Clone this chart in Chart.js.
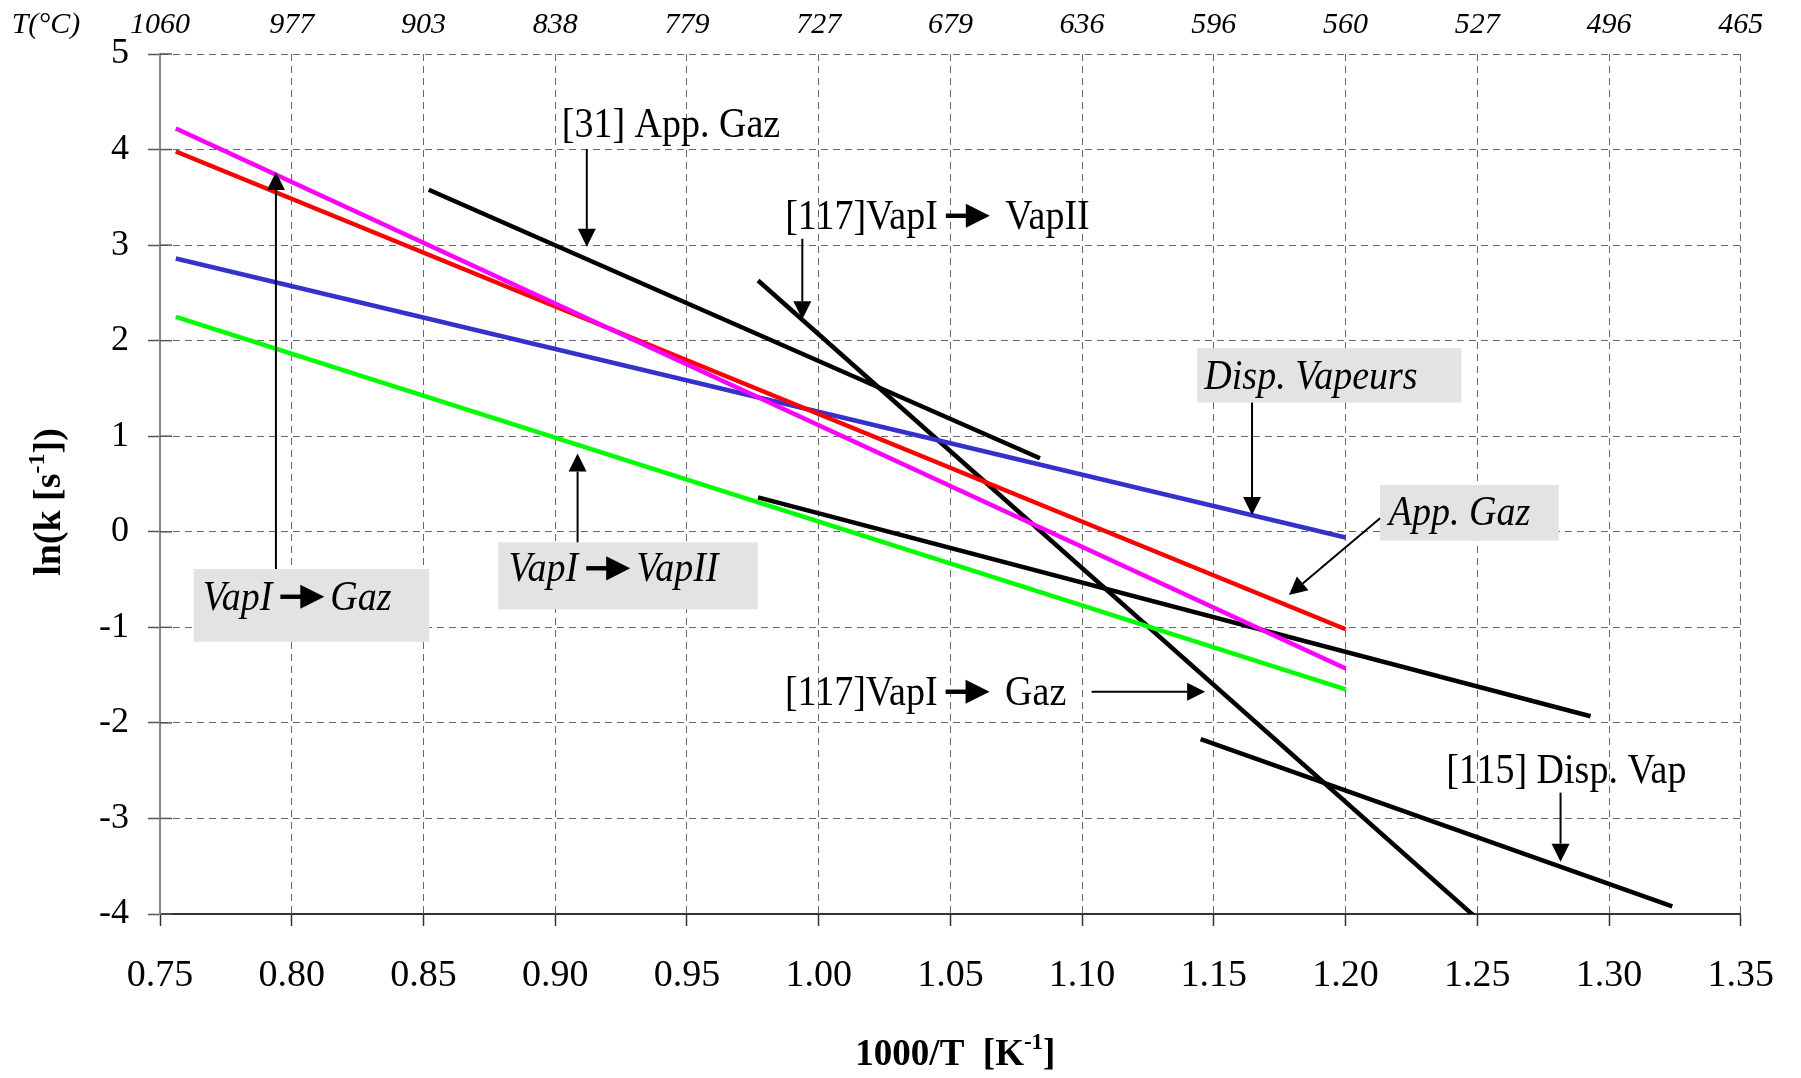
<!DOCTYPE html>
<html>
<head>
<meta charset="utf-8">
<title>ln(k) en fonction de 1000/T</title>
<script src="https://cdn.jsdelivr.net/npm/chart.js@4.4.1/dist/chart.umd.min.js"></script>
<style>
  html, body { margin: 0; padding: 0; background: #fff; }
  #chart { display: block; }
</style>
</head>
<body>
<canvas id="chart" width="1801" height="1078"></canvas>
<script>
// ticks
const xTicks = [0.75, 0.80, 0.85, 0.90, 0.95, 1.00, 1.05, 1.10, 1.15, 1.20, 1.25, 1.30, 1.35];
const topLabels = ['1060', '977', '903', '838', '779', '727', '679', '636', '596', '560', '527', '496', '465'];

// straight lines, end points (1000/T, ln k)
const vapGazX = [0.756, 1.200];          // VapI -> Gaz (magenta)
const vapGazY = [4.22, -1.43];
const appGazX = [0.756, 1.200];          // App. Gaz (red)
const appGazY = [3.98, -1.02];
const dispVapX = [0.756, 1.200];         // Disp. Vapeurs (blue)
const dispVapY = [2.86, -0.06];
const vapVapX = [0.756, 1.200];          // VapI -> VapII (green)
const vapVapY = [2.25, -1.65];
const ref31X = [0.852, 1.084];           // [31] App. Gaz
const ref31Y = [3.58, 0.77];
const ref117VapX = [0.977, 1.250];       // [117] VapI -> VapII
const ref117VapY = [2.63, -4.05];
const ref117GazX = [0.977, 1.293];       // [117] VapI -> Gaz
const ref117GazY = [0.36, -1.93];
const ref115X = [1.145, 1.324];          // [115] Disp. Vap
const ref115Y = [-2.17, -3.92];

const SERIF = 'Liberation Serif';
const ARROW = '->';

// labels and arrows, in data units
const notes = [
  { parts: ['[31] App. Gaz'], x: 0.9025, y: 4.246 },
  { parts: ['[117]VapI', ARROW, ' VapII'], x: 0.9873, y: 3.284 },
  { parts: ['[117]VapI', ARROW, ' Gaz'], x: 0.9872, y: -1.697 },
  { parts: ['[115] Disp. Vap'], x: 1.2382, y: -2.514 },
  { parts: ['Disp. Vapeurs'], x: 1.1464, y: 1.611, italic: true, box: [1.1437, 1.922, 1.244, 1.352] },
  { parts: ['App. Gaz'], x: 1.2164, y: 0.187, italic: true, box: [1.2131, 0.490, 1.2809, -0.093] },
  { parts: ['VapI', ARROW, 'VapII'], x: 0.8823, y: -0.405, italic: true, box: [0.8783, -0.110, 0.9769, -0.812] },
  { parts: ['VapI', ARROW, 'Gaz'], x: 0.7662, y: -0.703, italic: true, box: [0.7628, -0.390, 0.8522, -1.151] }
];
const arrows = [
  [0.912, 4.005, 0.912, 2.982],
  [0.9938, 3.067, 0.9938, 2.225],
  [1.1645, 1.352, 1.1645, 0.176],
  [1.2131, 0.141, 1.1785, -0.662],
  [0.9085, -0.110, 0.9085, 0.818],
  [0.794, -0.390, 0.794, 3.764],
  [1.1036, -1.674, 1.1467, -1.674],
  [1.2816, -2.730, 1.2816, -3.452]
];

function points(xs, ys) {
  return xs.map(function (x, i) { return { x: x, y: ys[i] }; });
}

function line(label, xs, ys, color) {
  return {
    label: label,
    data: points(xs, ys),
    showLine: true,
    borderColor: color,
    backgroundColor: color,
    borderWidth: 4.5,
    pointRadius: 0,
    fill: false
  };
}

function arrowTo(ctx, x1, y1, x2, y2) {
  const a = Math.atan2(y2 - y1, x2 - x1);
  const len = 18, half = 9;
  ctx.lineWidth = 2;
  ctx.beginPath();
  ctx.moveTo(x1, y1);
  ctx.lineTo(x2 - Math.cos(a) * len, y2 - Math.sin(a) * len);
  ctx.stroke();
  ctx.beginPath();
  ctx.moveTo(x2, y2);
  ctx.lineTo(x2 - Math.cos(a) * len - Math.sin(a) * half, y2 - Math.sin(a) * len + Math.cos(a) * half);
  ctx.lineTo(x2 - Math.cos(a) * len + Math.sin(a) * half, y2 - Math.sin(a) * len - Math.cos(a) * half);
  ctx.closePath();
  ctx.fill();
}

// text with a thick arrow glyph inside, y is the middle line
function drawRich(ctx, parts, x, y) {
  let cx = x;
  parts.forEach(function (p) {
    if (p === ARROW) {
      const x0 = cx + 8, x1 = x0 + 44;
      ctx.lineWidth = 4;
      ctx.beginPath();
      ctx.moveTo(x0, y - 2);
      ctx.lineTo(x1 - 20, y - 2);
      ctx.stroke();
      ctx.beginPath();
      ctx.moveTo(x1, y - 2);
      ctx.lineTo(x1 - 24, y - 13);
      ctx.lineTo(x1 - 24, y + 9);
      ctx.closePath();
      ctx.fill();
      cx = x1 + 6;
    } else {
      ctx.fillText(p, cx, y);
      cx += ctx.measureText(p).width;
    }
  });
}

// bold title with a "-1" exponent, centred on x
function drawTitle(ctx, before, after, x, y, size) {
  ctx.font = 'bold ' + size + 'px "' + SERIF + '"';
  const w1 = ctx.measureText(before).width;
  const w3 = ctx.measureText(after).width;
  ctx.font = 'bold ' + Math.round(size * 0.62) + 'px "' + SERIF + '"';
  const w2 = ctx.measureText('-1').width;
  let cx = x - (w1 + w2 + w3) / 2;
  ctx.textAlign = 'left';
  ctx.textBaseline = 'alphabetic';
  ctx.font = 'bold ' + size + 'px "' + SERIF + '"';
  ctx.fillText(before, cx, y);
  cx += w1;
  ctx.font = 'bold ' + Math.round(size * 0.62) + 'px "' + SERIF + '"';
  ctx.fillText('-1', cx, y - size * 0.42);
  cx += w2;
  ctx.font = 'bold ' + size + 'px "' + SERIF + '"';
  ctx.fillText(after, cx, y);
}

const notesPlugin = {
  id: 'notes',
  afterDatasetsDraw: function (chart) {
    const ctx = chart.ctx;
    const sx = chart.scales.x, sy = chart.scales.y;
    const area = chart.chartArea;
    ctx.save();
    ctx.fillStyle = '#000';
    ctx.strokeStyle = '#000';

    // y tick marks also cross into the plot
    ctx.lineWidth = 1.5;
    ctx.strokeStyle = '#555';
    for (let v = -4; v <= 5; v++) {
      const py = sy.getPixelForValue(v);
      ctx.beginPath();
      ctx.moveTo(area.left, py);
      ctx.lineTo(area.left + 12, py);
      ctx.stroke();
    }
    ctx.strokeStyle = '#000';

    notes.forEach(function (n) {
      if (n.box) {
        const bx1 = sx.getPixelForValue(n.box[0]), by1 = sy.getPixelForValue(n.box[1]);
        const bx2 = sx.getPixelForValue(n.box[2]), by2 = sy.getPixelForValue(n.box[3]);
        ctx.fillStyle = '#e3e3e3';
        ctx.fillRect(bx1, by1, bx2 - bx1, by2 - by1);
        ctx.fillStyle = '#000';
      }
      ctx.font = (n.italic ? 'italic ' : '') + '38px "' + SERIF + '"';
      ctx.textAlign = 'left';
      ctx.textBaseline = 'middle';
      ctx.save();
      ctx.translate(sx.getPixelForValue(n.x), sy.getPixelForValue(n.y));
      ctx.scale(1, 1.1);
      drawRich(ctx, n.parts, 0, 0);
      ctx.restore();
    });

    arrows.forEach(function (a) {
      arrowTo(ctx, sx.getPixelForValue(a[0]), sy.getPixelForValue(a[1]),
        sx.getPixelForValue(a[2]), sy.getPixelForValue(a[3]));
    });

    // T(°C) caption of the top axis
    ctx.font = 'italic 30px "' + SERIF + '"';
    ctx.textAlign = 'center';
    ctx.textBaseline = 'middle';
    ctx.fillText('T(°C)', 46, 25);

    // axis titles
    drawTitle(ctx, '1000/T  [K', ']', (area.left + area.right) / 2 + 5, 1065, 37);
    ctx.save();
    ctx.translate(60, 502);
    ctx.rotate(-Math.PI / 2);
    drawTitle(ctx, 'ln(k [s', '])', 0, 0, 38);
    ctx.restore();

    ctx.restore();
  }
};

const ctx = document.getElementById('chart');
new Chart(ctx, {
  type: 'scatter',
  data: {
    datasets: [
      line('VapI -> Gaz', vapGazX, vapGazY, '#ff00ff'),
      line('App. Gaz', appGazX, appGazY, '#ff0000'),
      line('Disp. Vapeurs', dispVapX, dispVapY, '#3333cc'),
      line('VapI -> VapII', vapVapX, vapVapY, '#00ff00'),
      line('[31] App. Gaz', ref31X, ref31Y, '#000000'),
      line('[117] VapI -> VapII', ref117VapX, ref117VapY, '#000000'),
      line('[117] VapI -> Gaz', ref117GazX, ref117GazY, '#000000'),
      line('[115] Disp. Vap', ref115X, ref115Y, '#000000')
    ]
  },
  options: {
    responsive: false,
    animation: false,
    devicePixelRatio: 1,
    layout: { padding: { left: 0, right: 56, top: 0, bottom: 0 } },
    plugins: {
      legend: { display: false },
      tooltip: { enabled: false }
    },
    scales: {
      x: {
        type: 'linear',
        position: 'bottom',
        min: 0.75,
        max: 1.35,
        afterBuildTicks: function (axis) {
          axis.ticks = xTicks.map(function (v) { return { value: v }; });
        },
        afterFit: function (axis) { axis.height = 164; },
        ticks: {
          autoSkip: false,
          maxRotation: 0,
          color: '#000',
          padding: 27,
          font: { family: SERIF, size: 38 },
          callback: function (v) { return Number(v).toFixed(2); }
        },
        grid: { color: '#666', lineWidth: 1, tickLength: 12, tickColor: '#333', tickWidth: 1.5 },
        border: { color: '#333', width: 2, dash: [7, 5] }
      },
      x2: {
        type: 'linear',
        position: 'top',
        min: 0.75,
        max: 1.35,
        afterBuildTicks: function (axis) {
          axis.ticks = xTicks.map(function (v) { return { value: v }; });
        },
        afterFit: function (axis) { axis.height = 54; },
        ticks: {
          autoSkip: false,
          maxRotation: 0,
          color: '#000',
          padding: 11,
          font: { family: SERIF, size: 30, style: 'italic' },
          callback: function (v, i) { return topLabels[i]; }
        },
        grid: { display: false, drawTicks: false },
        border: { display: false }
      },
      y: {
        type: 'linear',
        min: -4,
        max: 5,
        afterFit: function (axis) { axis.width = 160; },
        ticks: {
          stepSize: 1,
          color: '#000',
          padding: 19,
          font: { family: SERIF, size: 36 }
        },
        grid: { color: '#666', lineWidth: 1, tickLength: 12, tickColor: '#555', tickWidth: 1.5 },
        border: { color: '#888', width: 2, dash: [7, 5] }
      }
    }
  },
  plugins: [notesPlugin]
});
</script>
</body>
</html>
